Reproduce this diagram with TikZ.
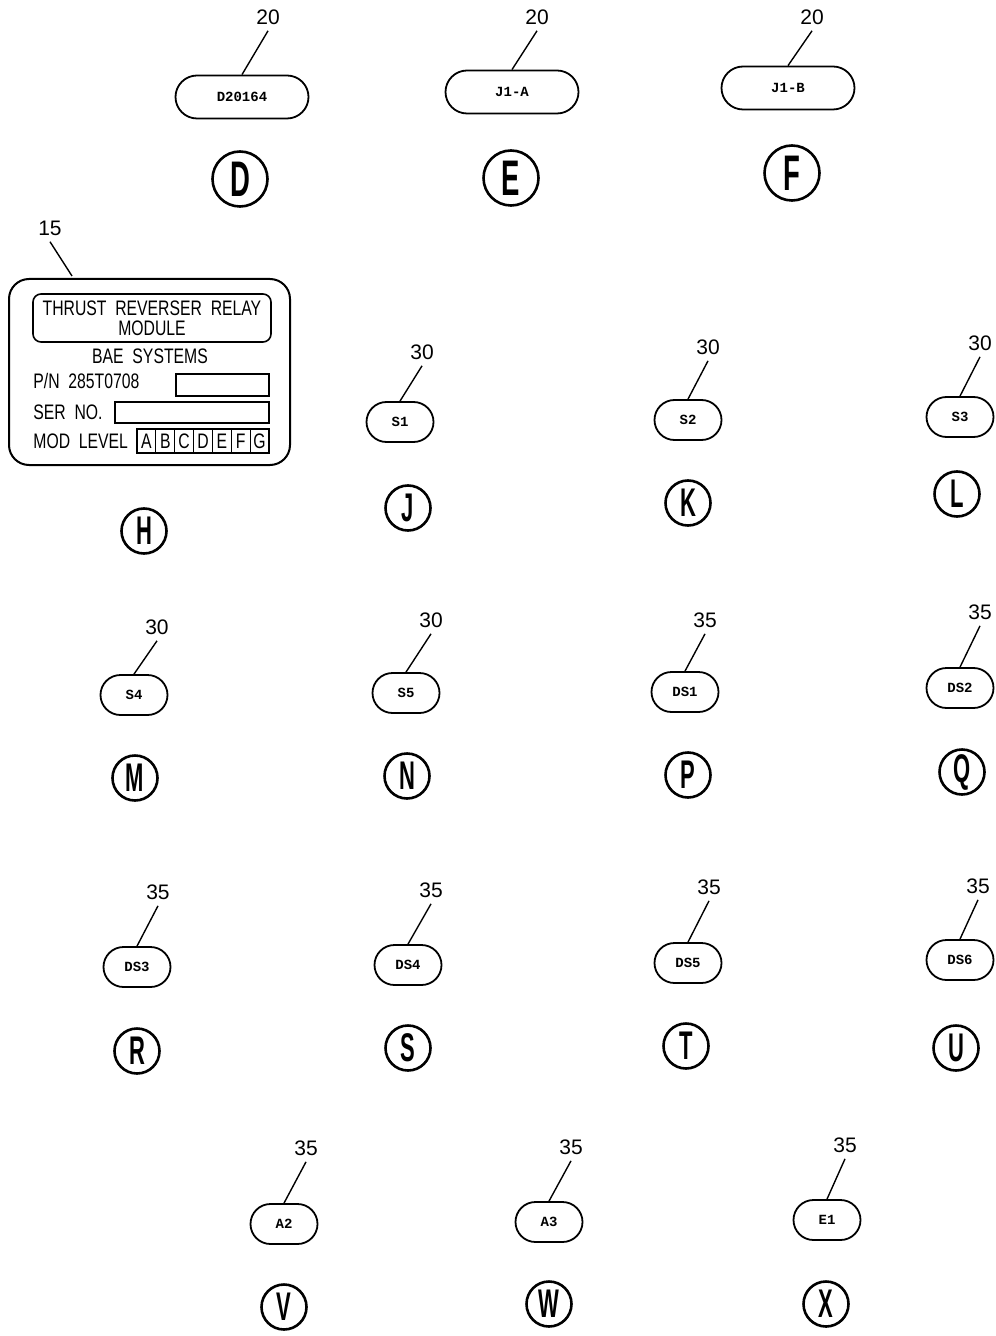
\documentclass[tikz,border=0pt]{standalone}
\usepackage{fontspec}
\setmainfont{Liberation Sans}
\newfontfamily\platefont[FakeStretch=0.75]{Liberation Sans}
\newfontfamily\letterfont[FakeStretch=0.55]{Liberation Sans}
\newfontfamily\tagfont{Liberation Mono}
\usetikzlibrary{shapes.misc,chains}

\begin{document}
\begin{tikzpicture}[x=0.5pt,y=-0.5pt,
  tag/.style={rounded rectangle, draw, line width=0.9pt, minimum width=33.5pt,
    minimum height=20pt, inner sep=0pt, font=\tagfont\bfseries\fontsize{7}{8}\selectfont},
  bigtag/.style={tag, minimum width=66.5pt, minimum height=21.5pt},
  num/.style={inner sep=3pt, font=\fontsize{10.5}{12}\selectfont},
  view/.style={circle, draw, line width=1.3pt, minimum size=22.5pt, inner sep=0pt,
    font=\letterfont\bfseries\fontsize{20}{22}\selectfont},
  bigview/.style={view, minimum size=27.5pt, font=\letterfont\bfseries\fontsize{25}{27}\selectfont},
  leader/.style={line width=0.7pt},
  plate/.style={inner sep=0pt, font=\platefont\fontsize{10.5}{12}\selectfont},
  cell/.style={plate, draw, line width=0.6pt, minimum width=9.43pt, minimum height=12pt,
    outer sep=0pt, on chain}]

  \useasboundingbox (0,0) rectangle (995,1336);

  % top row tags
  \node[bigtag] (tD) at (242,97) {D20164};
  \node[bigtag] (tE) at (512,92) {J1-A};
  \node[bigtag] (tF) at (788,88) {J1-B};
  \node[num] (nD) at (268,17) {20};
  \node[num] (nE) at (537,17) {20};
  \node[num] (nF) at (812,17) {20};
  \draw[leader] (tD.north) -- (nD.south);
  \draw[leader] (tE.north) -- (nE.south);
  \draw[leader] (tF.north) -- (nF.south);
  \node[bigview] (vD) at (240,179) {D};
  \node[bigview] (vE) at (511,178) {E};
  \node[bigview] (vF) at (792,173) {F};

  % id plate
  \draw[line width=1pt, rounded corners=10pt] (9,279) rectangle (290,465);
  \draw[line width=0.8pt, rounded corners=4pt] (33,294) rectangle (271,342);
  \coordinate (plateTop) at (72,276);
  \node[num] (nH) at (50,228) {15};
  \draw[leader] (plateTop) -- (nH.south);
  \node[plate, anchor=base] (title) at (152,315.5) {THRUST~~REVERSER~~RELAY};
  \node[plate, anchor=base] (title2) at (152,336) {MODULE};
  \node[plate, anchor=base] (maker) at (150,364) {BAE~~SYSTEMS};
  \node[plate, anchor=base west] (pn) at (33,389) {P/N~~285T0708};
  \node[plate, anchor=base west] (ser) at (33,419) {SER~~NO.};
  \node[plate, anchor=base west] (mod) at (33,448) {MOD~~LEVEL};
  \draw[line width=0.6pt] (176,374) rectangle (269,396);
  \draw[line width=0.6pt] (115,402) rectangle (269,423);
  \begin{scope}[start chain=modlevel going right, node distance=0pt]
    \node[cell] (mA) at (146.4,441) {A};
    \node[cell] (mB) {B};
    \node[cell] (mC) {C};
    \node[cell] (mD) {D};
    \node[cell] (mE) {E};
    \node[cell] (mF) {F};
    \node[cell] (mG) {G};
  \end{scope}
  \node[view] (vH) at (144,531) {H};

  % switch tags
  \node[tag] (tJ) at (400,422) {S1};
  \node[tag] (tK) at (688,420) {S2};
  \node[tag] (tL) at (960,417) {S3};
  \node[tag] (tM) at (134,695) {S4};
  \node[tag] (tN) at (406,693) {S5};
  \node[num] (nJ) at (422,352) {30};
  \node[num] (nK) at (708,347) {30};
  \node[num] (nL) at (980,343) {30};
  \node[num] (nM) at (157,627) {30};
  \node[num] (nN) at (431,620) {30};
  \draw[leader] (tJ.north) -- (nJ.south);
  \draw[leader] (tK.north) -- (nK.south);
  \draw[leader] (tL.north) -- (nL.south);
  \draw[leader] (tM.north) -- (nM.south);
  \draw[leader] (tN.north) -- (nN.south);
  \node[view] (vJ) at (408,508) {J};
  \node[view] (vK) at (688,503) {K};
  \node[view] (vL) at (957,494) {L};
  \node[view] (vM) at (135,778) {M};
  \node[view] (vN) at (407,776) {N};

  % lamp tags
  \node[tag] (tP) at (685,692) {DS1};
  \node[tag] (tQ) at (960,688) {DS2};
  \node[tag] (tR) at (137,967) {DS3};
  \node[tag] (tS) at (408,965) {DS4};
  \node[tag] (tT) at (688,963) {DS5};
  \node[tag] (tU) at (960,960) {DS6};
  \node[tag] (tV) at (284,1224) {A2};
  \node[tag] (tW) at (549,1222) {A3};
  \node[tag] (tX) at (827,1220) {E1};
  \node[num] (nP) at (705,620) {35};
  \node[num] (nQ) at (980,612) {35};
  \node[num] (nR) at (158,892) {35};
  \node[num] (nS) at (431,890) {35};
  \node[num] (nT) at (709,887) {35};
  \node[num] (nU) at (978,886) {35};
  \node[num] (nV) at (306,1148) {35};
  \node[num] (nW) at (571,1147) {35};
  \node[num] (nX) at (845,1145) {35};
  \draw[leader] (tP.north) -- (nP.south);
  \draw[leader] (tQ.north) -- (nQ.south);
  \draw[leader] (tR.north) -- (nR.south);
  \draw[leader] (tS.north) -- (nS.south);
  \draw[leader] (tT.north) -- (nT.south);
  \draw[leader] (tU.north) -- (nU.south);
  \draw[leader] (tV.north) -- (nV.south);
  \draw[leader] (tW.north) -- (nW.south);
  \draw[leader] (tX.north) -- (nX.south);
  \node[view] (vP) at (688,775) {P};
  \node[view] (vQ) at (962,772) {Q};
  \node[view] (vR) at (137,1051) {R};
  \node[view] (vS) at (408,1048) {S};
  \node[view] (vT) at (686,1046) {T};
  \node[view] (vU) at (956,1048) {U};
  \node[view] (vV) at (284,1307) {V};
  \node[view] (vW) at (549,1304) {W};
  \node[view] (vX) at (826,1304) {X};
\end{tikzpicture}
\end{document}
